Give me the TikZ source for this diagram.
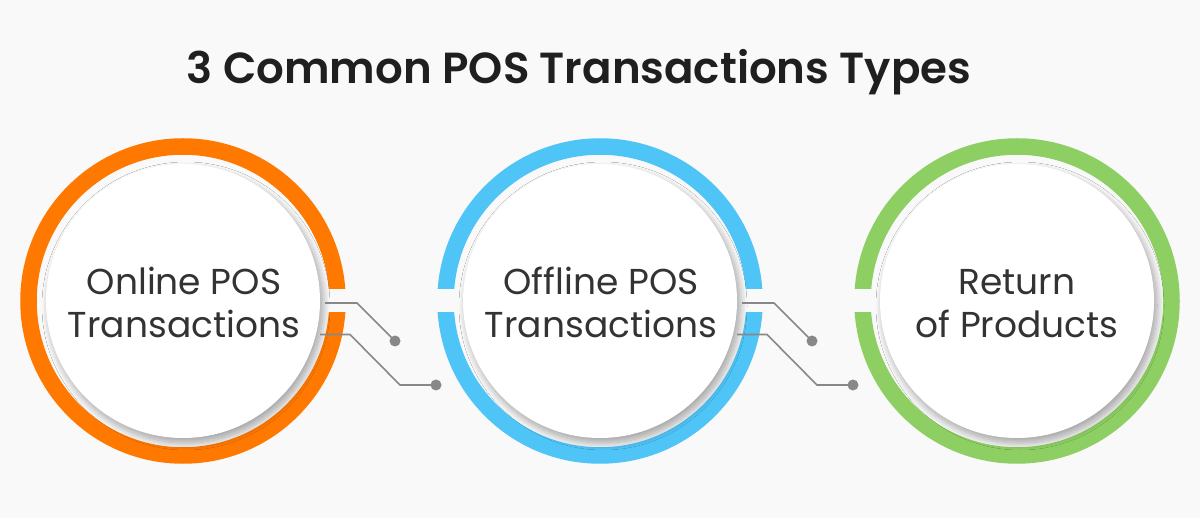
\documentclass[tikz,border=0pt]{standalone}
\usepackage{fontspec}
\setmainfont{Poppins}
\newfontfamily\titlefont{Poppins SemiBold}
\usetikzlibrary{shadows.blur}
\definecolor{bgc}{HTML}{F9F9F9}
\definecolor{ringA}{HTML}{FF7800}
\definecolor{ringB}{HTML}{4FC4F6}
\definecolor{ringC}{HTML}{8DCF63}
\definecolor{txt}{HTML}{333333}
\definecolor{ttl}{HTML}{1F1F1F}
\definecolor{conn}{HTML}{888888}
\tikzset{
  disk/.style={circle, minimum size=274pt, inner sep=0pt, fill=white,
    blur shadow={shadow xshift=3pt, shadow yshift=-5pt, shadow blur steps=12, shadow blur radius=7pt, shadow opacity=35}},
  ringline/.style={line width=16.5pt},
  gapbox/.style={fill=bgc},
  label/.style={anchor=base, text=txt, font=\fontsize{36}{40}\selectfont, inner sep=0pt},
  wire/.style={draw=conn, line width=1.6pt},
  dotnode/.style={circle, fill=conn, minimum size=11pt, inner sep=0pt}
}
\begin{document}
\begin{tikzpicture}[x=1pt,y=-1pt]
\fill[bgc] (0,0) rectangle (1200,518);
\useasboundingbox (0,0) rectangle (1200,518);
\node[anchor=base, text=ttl, font=\titlefont\fontsize{43.5}{48}\selectfont, inner sep=0pt] (title) at (579,84) {3 Common POS Transactions Types};
% rings
\draw[ringline, ringA] (183,301) circle[radius=154.5pt];
\draw[ringline, ringB] (600,301) circle[radius=154.5pt];
\draw[ringline, ringC] (1017,301) circle[radius=154.5pt];
% gaps
\fill[gapbox] (183+144,289) rectangle (183+172,312);
\fill[gapbox] (600+144,289) rectangle (600+172,312);
\fill[gapbox] (600-172,289) rectangle (600-144,312);
\fill[gapbox] (1017-172,289) rectangle (1017-144,312);
% disks
\node[disk] (c1) at (183,301) {};
\node[disk] (c2) at (600,301) {};
\node[disk] (c3) at (1017,301) {};
% connectors
\coordinate (s1a) at (325,303);
\coordinate (s1b) at (320,334.5);
\coordinate (s2a) at (742,303);
\coordinate (s2b) at (737,334.5);
\node[dotnode] (d1a) at (395,341) {};
\node[dotnode] (d1b) at (436,385) {};
\node[dotnode] (d2a) at (812,341) {};
\node[dotnode] (d2b) at (853,385) {};
\draw[wire] (s1a) -- ++(32,0) -- (d1a.center);
\draw[wire] (s1b) -- ++(30,0) -- (400,385) -- (d1b.center);
\draw[wire] (s2a) -- ++(32,0) -- (d2a.center);
\draw[wire] (s2b) -- ++(30,0) -- (817,385) -- (d2b.center);
% texts
\node[label] (t1a) at (184,295) {Online POS};
\node[label] (t1b) at (184,338) {Transactions};
\node[label] (t2a) at (601,295) {Offline POS};
\node[label] (t2b) at (601,338) {Transactions};
\node[label] (t3a) at (1017,295) {Return};
\node[label] (t3b) at (1017,338) {of Products};
\end{tikzpicture}
\end{document}
